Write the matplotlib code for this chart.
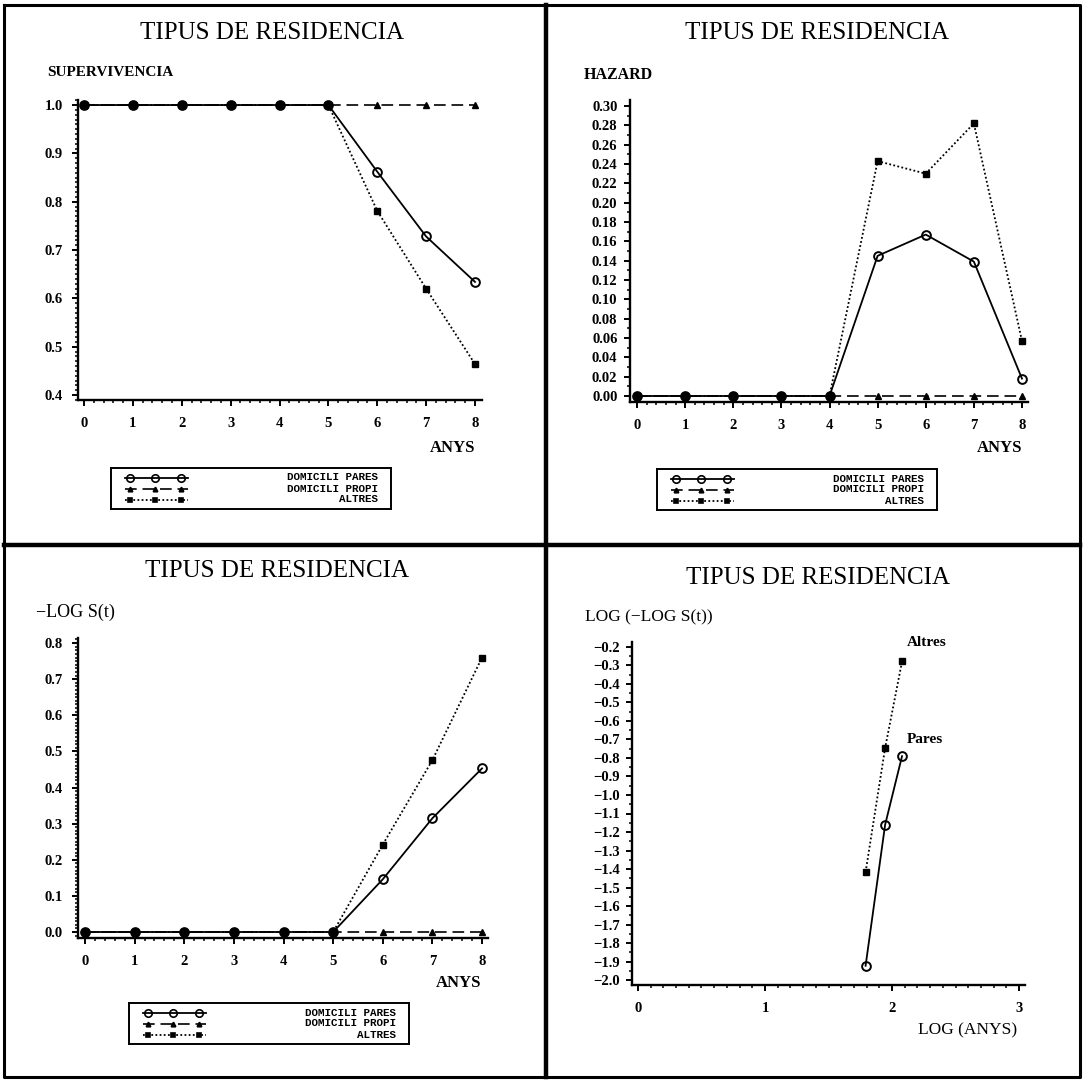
import matplotlib
matplotlib.use('Agg')
from matplotlib import pyplot as plt
from matplotlib.ticker import MultipleLocator, FormatStrFormatter


# years since start
years = [0, 1, 2, 3, 4, 5, 6, 7, 8]

# survival S(t)
surv_pares = [1.0, 1.0, 1.0, 1.0, 1.0, 1.0, 0.862, 0.728, 0.634]
surv_propi = [1.0, 1.0, 1.0, 1.0, 1.0, 1.0, 1.0, 1.0, 1.0]
surv_altres = [1.0, 1.0, 1.0, 1.0, 1.0, 1.0, 0.781, 0.620, 0.464]

# hazard
haz_pares = [0.0, 0.0, 0.0, 0.0, 0.0, 0.145, 0.167, 0.139, 0.018]
haz_propi = [0.0, 0.0, 0.0, 0.0, 0.0, 0.0, 0.0, 0.0, 0.0]
haz_altres = [0.0, 0.0, 0.0, 0.0, 0.0, 0.243, 0.230, 0.282, 0.057]

# -log S(t)
cum_pares = [0.0, 0.0, 0.0, 0.0, 0.0, 0.0, 0.146, 0.315, 0.453]
cum_propi = [0.0, 0.0, 0.0, 0.0, 0.0, 0.0, 0.0, 0.0, 0.0]
cum_altres = [0.0, 0.0, 0.0, 0.0, 0.0, 0.0, 0.242, 0.476, 0.760]

# log(-log S(t)) against log(years), only where S(t) < 1
log_years = [1.792, 1.946, 2.079]
ll_pares = [-1.923, -1.160, -0.790]
ll_altres = [-1.417, -0.745, -0.278]

group_names = ['DOMICILI PARES', 'DOMICILI PROPI', 'ALTRES']
title = 'TIPUS DE RESIDENCIA'

W, H = 1084, 1081
SERIF = 'Liberation Serif'
MONO = 'Liberation Mono'
TICK_FS = 10.5

STY = {
	'pares': dict(color='black', lw=1.3, ls='-', marker='o', ms=6.3, mfc='none', mec='black', mew=1.4),
	'propi': dict(color='black', lw=1.2, ls=(0, (7, 3.5)), marker='^', ms=3.8, mfc='black', mec='black'),
	'altres': dict(color='black', lw=1.3, ls=(0, (1, 1.3)), marker='s', ms=4.0, mfc='black', mec='black'),
}


def px_axes(fig, x0, y0, x1, y1):
	return fig.add_axes([x0 / W, 1 - y1 / H, (x1 - x0) / W, (y1 - y0) / H])


def ftext(fig, x, y, s, **kw):
	fig.text(x / W, 1 - y / H, s, va='center', **kw)


def fix_ticklabels(ax):
	for lab in ax.get_xticklabels() + ax.get_yticklabels():
		lab.set_fontfamily(SERIF)
		lab.set_fontweight('bold')
		lab.set_fontsize(TICK_FS)


def style_axes(ax, xmaj, xmin, ymaj, ymin, yfmt, xpad, ypad):
	for side in ['top', 'right']:
		ax.spines[side].set_visible(False)
	for side in ['left', 'bottom']:
		ax.spines[side].set_linewidth(1.7)
	ax.xaxis.set_major_locator(MultipleLocator(xmaj))
	ax.xaxis.set_minor_locator(MultipleLocator(xmin))
	ax.yaxis.set_major_locator(MultipleLocator(ymaj))
	ax.yaxis.set_minor_locator(MultipleLocator(ymin))
	ax.yaxis.set_major_formatter(yfmt)
	ax.xaxis.set_major_formatter(FormatStrFormatter('%d'))
	ax.tick_params(which='major', direction='out', length=4, width=1.4)
	ax.tick_params(which='minor', direction='out', length=2.5, width=1.1)
	ax.tick_params(axis='x', which='major', pad=xpad)
	ax.tick_params(axis='y', which='major', pad=ypad)
	fix_ticklabels(ax)
	ax.patch.set_alpha(0)


def legend_box(fig, x0, y0):
	lg = px_axes(fig, x0, y0, x0 + 280, y0 + 41)
	lg.set_xlim(0, 280)
	lg.set_ylim(41, 0)
	lg.set_xticks([])
	lg.set_yticks([])
	for s in lg.spines.values():
		s.set_linewidth(1.4)
	rows = [('pares', 9.5), ('propi', 20.5), ('altres', 31.5)]
	for (key, y), name in zip(rows, group_names):
		st = dict(STY[key])
		mk = dict(marker=st.pop('marker'), ms=st.pop('ms') * 0.85, mfc=st.pop('mfc'), mec=st.pop('mec'))
		st.pop('mew', None)
		lg.plot([14, 77], [y, y], **st)
		lg.plot([19, 44, 70], [y, y, y], ls='none', mew=1.2, **mk)
		lg.text(267, y, name, ha='right', va='center', family=MONO, weight='bold', fontsize=7.8)


def main():
	fig = plt.figure(figsize=(W / 100, H / 100), dpi=100)

	# panel frames
	frame = fig.add_axes([0, 0, 1, 1])
	frame.set_xlim(0, W)
	frame.set_ylim(H, 0)
	frame.axis('off')
	frame.plot([4, 1080, 1080, 4, 4], [5, 5, 1077, 1077, 5], color='black', lw=2.2)
	frame.plot([546, 546], [5, 1077], color='black', lw=3.2)
	frame.plot([4, 1080], [545, 545], color='black', lw=3.2)

	f1 = FormatStrFormatter('%.1f')
	f2 = FormatStrFormatter('%.2f')
	fneg = plt.FuncFormatter(lambda v, p: '\u2212%.1f' % abs(v))

	####
	# top left: survival
	####
	ax = px_axes(fig, 78, 100, 482, 400)
	ax.plot(years, surv_propi, **STY['propi'])
	ax.plot(years, surv_altres, **STY['altres'])
	ax.plot(years, surv_pares, **STY['pares'])
	ax.set_xlim(-0.123, 8.143)
	ax.set_ylim(0.3897, 1.0104)
	style_axes(ax, 1, 0.2, 0.1, 0.01, f1, 8, 7)
	ftext(fig, 272, 33, title, ha='center', family=SERIF, fontsize=18)
	ftext(fig, 47, 72, 'SUPERVIVENCIA', ha='left', family=SERIF, weight='bold', fontsize=11)
	ftext(fig, 475, 448, 'ANYS', ha='right', family=SERIF, weight='bold', fontsize=12)
	legend_box(fig, 111, 468)

	####
	# top right: hazard
	####
	ax = px_axes(fig, 630, 100, 1028, 402)
	ax.plot(years, haz_propi, **STY['propi'])
	ax.plot(years, haz_altres, **STY['altres'])
	ax.plot(years, haz_pares, **STY['pares'])
	ax.set_xlim(-0.146, 8.125)
	ax.set_ylim(-0.0062, 0.3062)
	style_axes(ax, 1, 0.2, 0.02, 0.01, f2, 8, 5)
	ftext(fig, 817, 33, title, ha='center', family=SERIF, fontsize=18)
	ftext(fig, 584, 75, 'HAZARD', ha='left', family=SERIF, weight='bold', fontsize=11.5)
	ftext(fig, 1022, 448, 'ANYS', ha='right', family=SERIF, weight='bold', fontsize=12)
	legend_box(fig, 657, 469)

	####
	# bottom left: -log S(t)
	####
	ax = px_axes(fig, 78, 638, 488, 938)
	ax.plot(years, cum_propi, **STY['propi'])
	ax.plot(years, cum_altres, **STY['altres'])
	ax.plot(years, cum_pares, **STY['pares'])
	ax.set_xlim(-0.141, 8.12)
	ax.set_ylim(-0.0166, 0.814)
	style_axes(ax, 1, 0.2, 0.1, 0.01, f1, 8, 7)
	ftext(fig, 277, 571, title, ha='center', family=SERIF, fontsize=18)
	ftext(fig, 36, 612, '\u2212LOG S(t)', ha='left', family=SERIF, fontsize=13)
	ftext(fig, 481, 983, 'ANYS', ha='right', family=SERIF, weight='bold', fontsize=12)
	legend_box(fig, 129, 1003)

	####
	# bottom right: log(-log S(t))
	####
	ax = px_axes(fig, 632, 642, 1025, 985)
	ax.plot(log_years, ll_altres, **STY['altres'])
	ax.plot(log_years, ll_pares, **STY['pares'])
	ax.set_xlim(-0.047, 3.047)
	ax.set_ylim(-2.027, -0.173)
	style_axes(ax, 1, 0.1, 0.1, 0.05, fneg, 8, 5)
	ax.text(log_years[-1] + 0.04, ll_altres[-1] + 0.1, 'Altres', family=SERIF, weight='bold', fontsize=11, va='center')
	ax.text(log_years[-1] + 0.04, ll_pares[-1] + 0.09, 'Pares', family=SERIF, weight='bold', fontsize=11, va='center')
	ftext(fig, 818, 578, title, ha='center', family=SERIF, fontsize=18)
	ftext(fig, 585, 617, 'LOG (\u2212LOG S(t))', ha='left', family=SERIF, fontsize=12.5)
	ftext(fig, 1017, 1030, 'LOG (ANYS)', ha='right', family=SERIF, fontsize=12.5)

	plt.savefig('out.png', dpi=100)


if __name__ == '__main__': main()
